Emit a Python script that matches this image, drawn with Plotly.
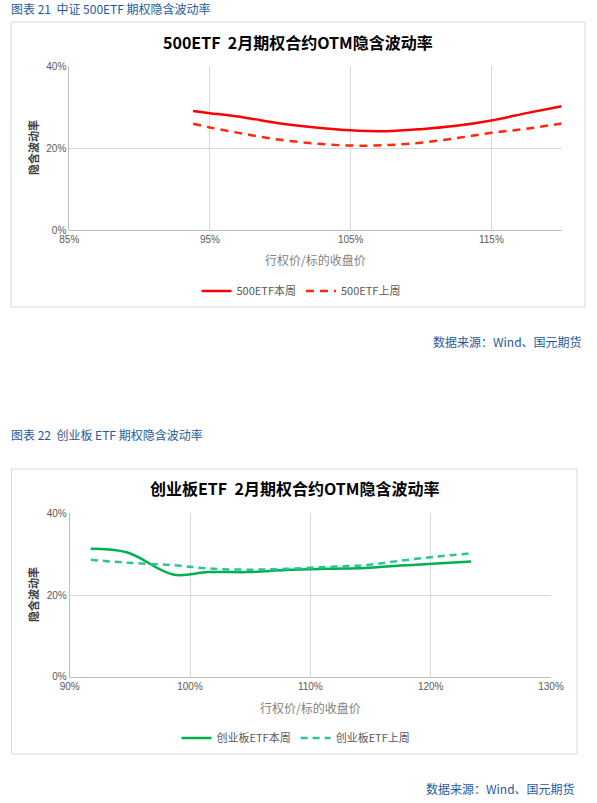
import plotly.graph_objects as go

# 中证500ETF 期权隐含波动率 (行权价/标的收盘价, %)
moneyness_500 = [93.8, 95, 97.5, 100, 102.5, 105, 107.5, 110, 112.5, 115, 117.5, 120]
iv_500_this = [29.0, 28.5, 27.4, 26.0, 25.0, 24.3, 24.1, 24.6, 25.4, 26.7, 28.5, 30.2]
iv_500_last = [25.9, 25.0, 23.4, 22.0, 21.1, 20.6, 20.7, 21.3, 22.4, 23.7, 24.7, 26.0]

# 创业板ETF 期权隐含波动率
moneyness_cyb = [91.75, 94.8, 98.6, 101.5, 104.8, 108, 111.5, 114.5, 117.5, 120.5, 123.35]
iv_cyb_this = [31.3, 30.4, 25.0, 25.6, 25.6, 26.1, 26.4, 26.6, 27.2, 27.7, 28.2]
iv_cyb_last = [28.6, 27.9, 27.3, 26.5, 26.2, 26.4, 26.9, 27.3, 28.4, 29.4, 30.2]

W, H = 597, 803
CJK = "Noto Sans CJK SC"
TICK_FONT = dict(family="Liberation Sans Narrow, Liberation Sans, Arial", size=10, color="#595959")
BLUE = "#1F5A9C"


def px(x):
    return x / W


def py(y):
    return 1 - y / H


fig = go.Figure()

fig.add_trace(go.Scatter(x=moneyness_500, y=iv_500_this, name="500ETF本周", mode="lines",
                         line=dict(color="#FF0000", width=2.5, shape="spline"),
                         xaxis="x", yaxis="y", legend="legend"))
fig.add_trace(go.Scatter(x=moneyness_500, y=iv_500_last, name="500ETF上周", mode="lines",
                         line=dict(color="#FF2A0A", width=2.5, shape="spline", dash="8px,6px"),
                         xaxis="x", yaxis="y", legend="legend"))
fig.add_trace(go.Scatter(x=moneyness_cyb, y=iv_cyb_this, name="创业板ETF本周", mode="lines",
                         line=dict(color="#00B050", width=2.5, shape="spline"),
                         xaxis="x2", yaxis="y2", legend="legend2"))
fig.add_trace(go.Scatter(x=moneyness_cyb, y=iv_cyb_last, name="创业板ETF上周", mode="lines",
                         line=dict(color="#2BC49A", width=2.5, shape="spline", dash="7px,5px"),
                         xaxis="x2", yaxis="y2", legend="legend2"))

axis_common = dict(showgrid=True, gridcolor="#D9D9D9", gridwidth=1, zeroline=False,
                   showline=True, linecolor="#BFBFBF", linewidth=1, automargin=False,
                   tickfont=TICK_FONT, ticks="", ticksuffix="%", fixedrange=True)

fig.update_layout(
    template="none",
    width=W, height=H,
    margin=dict(l=0, r=0, t=0, b=0, pad=0, autoexpand=False),
    paper_bgcolor="white", plot_bgcolor="white",
    font=dict(family=CJK),
    xaxis=dict(axis_common, domain=[px(69.3), px(561.7)], range=[85, 120],
               tick0=85, dtick=10, anchor="y"),
    yaxis=dict(axis_common, domain=[py(230), py(66)], range=[0, 40], dtick=20, anchor="x"),
    xaxis2=dict(axis_common, domain=[px(69.7), px(551)], range=[90, 130],
                tick0=90, dtick=10, anchor="y2"),
    yaxis2=dict(axis_common, domain=[py(676.7), py(513.3)], range=[0, 40], dtick=20, anchor="x2"),
    legend=dict(orientation="h", x=px(301), y=py(291), xanchor="center", yanchor="middle",
                font=dict(family=CJK, size=11, color="#595959"), itemwidth=30,
                bgcolor="rgba(0,0,0,0)"),
    legend2=dict(orientation="h", x=px(296), y=py(738), xanchor="center", yanchor="middle",
                 font=dict(family=CJK, size=11, color="#595959"), itemwidth=30,
                 bgcolor="rgba(0,0,0,0)"),
    shapes=[
        dict(type="rect", xref="paper", yref="paper", x0=px(11), x1=px(585), y0=py(307), y1=py(22),
             line=dict(color="#D9D9D9", width=1), layer="below"),
        dict(type="rect", xref="paper", yref="paper", x0=px(11.5), x1=px(577), y0=py(754), y1=py(469),
             line=dict(color="#D9D9D9", width=1), layer="below"),
    ],
)


def note(text, x, y, size, color, xanchor="center", bold=False, angle=0, family=CJK):
    fig.add_annotation(text=f"<b>{text}</b>" if bold else text, x=px(x), y=py(y),
                       xref="paper", yref="paper", xanchor=xanchor, yanchor="middle",
                       showarrow=False, textangle=angle,
                       font=dict(family=family, size=size, color=color))


# 图表标题
note("图表 21  中证 500ETF 期权隐含波动率", 9, 8, 12, BLUE, xanchor="left")
note("图表 22  创业板 ETF 期权隐含波动率", 9, 435, 12, BLUE, xanchor="left")

note("500ETF  2月期权合约OTM隐含波动率", 298, 42, 16, "#000000", bold=True)
note("创业板ETF  2月期权合约OTM隐含波动率", 294, 488, 16, "#000000", bold=True)

note("隐含波动率", 33, 148, 11, "#404040", bold=True, angle=-90)
note("隐含波动率", 33, 595, 11, "#404040", bold=True, angle=-90)

note("行权价/标的收盘价", 315, 260, 12, "#7F7F7F")
note("行权价/标的收盘价", 310, 707, 12, "#7F7F7F")

note("数据来源：Wind、国元期货", 584, 342, 12, BLUE, xanchor="right")
note("数据来源：Wind、国元期货", 577, 788, 12, BLUE, xanchor="right")

# 去掉页面默认边距，让图从左上角开始；不显示工具栏
fig.write_html("out.html", config={"displayModeBar": False},
               post_script="document.body.style.margin='0';")
